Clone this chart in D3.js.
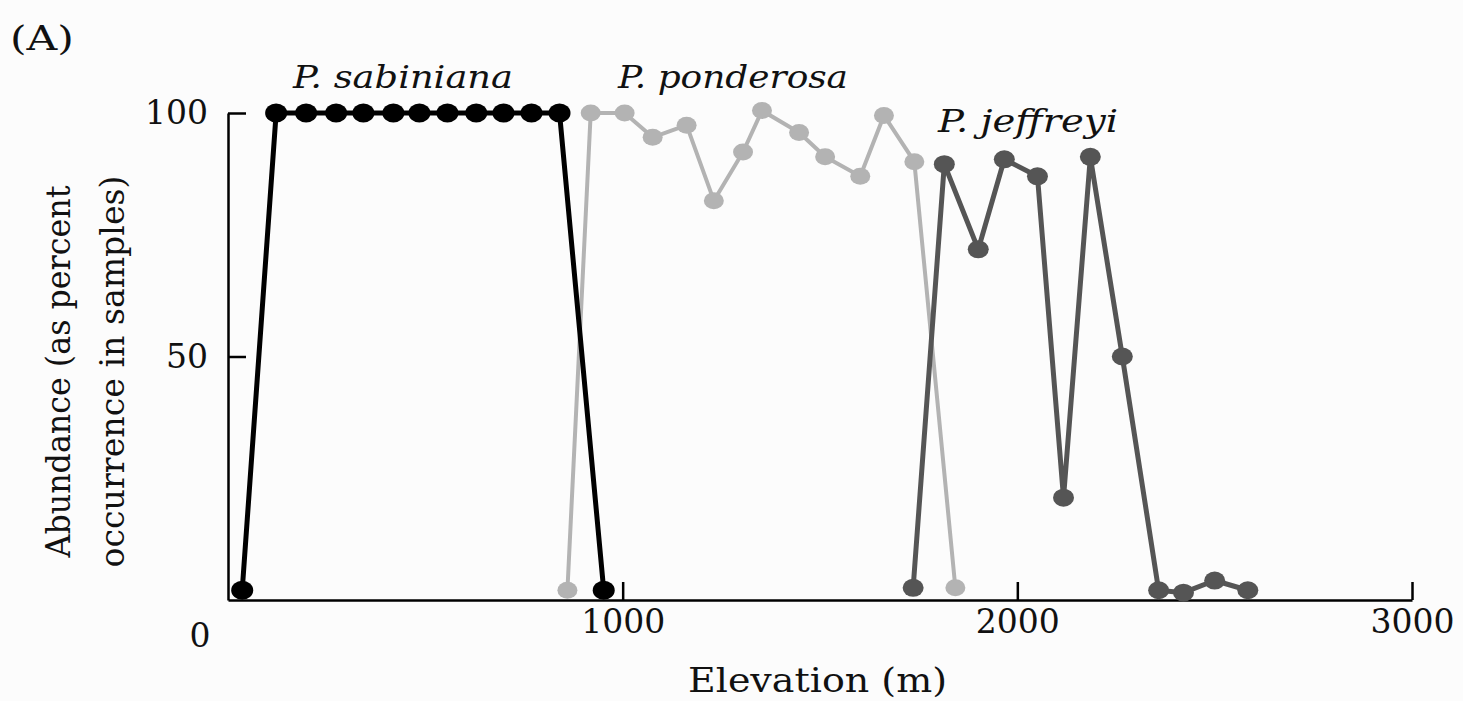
<!DOCTYPE html>
<html>
<head>
<meta charset="utf-8">
<script src="https://cdn.jsdelivr.net/npm/d3@7"></script>
<style>
  body { margin: 0; background: #fcfcfc; }
  svg { display: block; }
</style>
</head>
<body>
<div id="chart-container"></div>
<script>
// elevation (m) and abundance (%)
const sabinianaElev = [36, 122, 198, 274, 343, 419, 485, 556, 629, 698, 769, 840, 952];
const sabinianaAbund = [2, 100, 100, 100, 100, 100, 100, 100, 100, 100, 100, 100, 2];

const ponderosaElev = [860, 919, 1005, 1076, 1162, 1231, 1305, 1353, 1447, 1513, 1602, 1662, 1739, 1843];
const ponderosaAbund = [2, 100, 100, 95, 97.5, 82, 92, 100.5, 96, 91, 87, 99.5, 90, 2.5];

const jeffreyiElev = [1736, 1815, 1901, 1967, 2051, 2117, 2185, 2266, 2358, 2421, 2500, 2584];
const jeffreyiAbund = [2.5, 89.5, 72, 90.5, 87, 21, 91, 50, 2, 1.5, 4, 2];

const xTicks = [1000, 2000, 3000];
const yTicks = [50, 100];

const container = document.getElementById("chart-container");

function abundanceChart() {
    const width = 1463;
    const height = 701;
    const serif = "'DejaVu Serif', 'Liberation Serif', serif";

    const x = d3.scaleLinear().domain([0, 3000]).range([228, 1412]);
    const y = d3.scaleLinear().domain([0, 100]).range([600, 113]);

    const svg = d3.create("svg")
        .attr("width", width)
        .attr("height", height);

    // axes
    svg.append("g")
        .attr("transform", `translate(0,${y(0)})`)
        .call(d3.axisBottom(x).tickValues(xTicks).tickSizeInner(-18).tickSizeOuter(0).tickPadding(10).tickFormat(d3.format("d")))
        .call(g => g.select(".domain").attr("stroke-width", 2.5))
        .call(g => g.selectAll(".tick line").attr("stroke-width", 2.5))
        .call(g => g.selectAll(".tick text").attr("font-family", serif).attr("font-size", 33).attr("fill", "#111"));

    svg.append("g")
        .attr("transform", `translate(${x(0)},0)`)
        .call(d3.axisLeft(y).tickValues(yTicks).tickSizeInner(-18).tickSizeOuter(0).tickPadding(20))
        .call(g => g.select(".domain").attr("stroke-width", 2.5))
        .call(g => g.selectAll(".tick line").attr("stroke-width", 2.5))
        .call(g => g.selectAll(".tick text").attr("font-family", serif).attr("font-size", 33).attr("fill", "#111"));

    svg.append("text")
        .attr("x", x(0) - 28)
        .attr("y", y(0) + 47)
        .attr("font-family", serif).attr("font-size", 33).attr("fill", "#111")
        .attr("text-anchor", "middle")
        .text("0");

    svg.append("text")
        .attr("x", 688)
        .attr("y", 692)
        .attr("font-family", serif).attr("font-size", 34).attr("fill", "#111")
        .attr("textLength", 259).attr("lengthAdjust", "spacingAndGlyphs")
        .text("Elevation (m)");

    const yLabel = svg.append("text")
        .attr("transform", `translate(70,${(y(0) + y(100)) / 2 + 15}) rotate(-90)`)
        .attr("font-family", serif).attr("font-size", 33).attr("fill", "#111")
        .attr("text-anchor", "middle");
    yLabel.append("tspan").attr("x", 0).attr("dy", 0)
        .attr("textLength", 372).attr("lengthAdjust", "spacingAndGlyphs")
        .text("Abundance (as percent");
    yLabel.append("tspan").attr("x", 0).attr("dy", 54)
        .attr("textLength", 392).attr("lengthAdjust", "spacingAndGlyphs")
        .text("occurrence in samples)");

    svg.append("text")
        .attr("x", 10).attr("y", 50)
        .attr("font-family", serif).attr("font-size", 33).attr("fill", "#111")
        .attr("textLength", 64).attr("lengthAdjust", "spacingAndGlyphs")
        .text("(A)");

    // series
    const series = [
        { name: "P. ponderosa", elev: ponderosaElev, abund: ponderosaAbund, color: "#b3b3b3", lw: 4, r: 9, lx: 618, ly: 88, tl: 230 },
        { name: "P. jeffreyi", elev: jeffreyiElev, abund: jeffreyiAbund, color: "#555555", lw: 5, r: 9.5, lx: 938, ly: 132, tl: 180 },
        { name: "P. sabiniana", elev: sabinianaElev, abund: sabinianaAbund, color: "#000000", lw: 5, r: 10, lx: 293, ly: 88, tl: 220 }
    ];

    const line = d3.line().x(d => x(d[0])).y(d => y(d[1]));

    series.forEach(s => {
        const pts = d3.zip(s.elev, s.abund);
        svg.append("path")
            .datum(pts)
            .attr("d", line)
            .attr("fill", "none")
            .attr("stroke", s.color)
            .attr("stroke-width", s.lw)
            .attr("stroke-linejoin", "round");

        svg.append("g")
            .selectAll("ellipse")
            .data(pts)
            .join("ellipse")
            .attr("cx", d => x(d[0]))
            .attr("cy", d => y(d[1]))
            .attr("rx", s.r + 1)
            .attr("ry", s.r - 0.5)
            .attr("fill", s.color);

        svg.append("text")
            .attr("x", s.lx).attr("y", s.ly)
            .attr("font-family", serif).attr("font-size", 32).attr("font-style", "italic").attr("fill", "#111")
            .attr("textLength", s.tl).attr("lengthAdjust", "spacingAndGlyphs")
            .text(s.name);
    });

    return svg.node();
}

container.appendChild(abundanceChart());
</script>
</body>
</html>
